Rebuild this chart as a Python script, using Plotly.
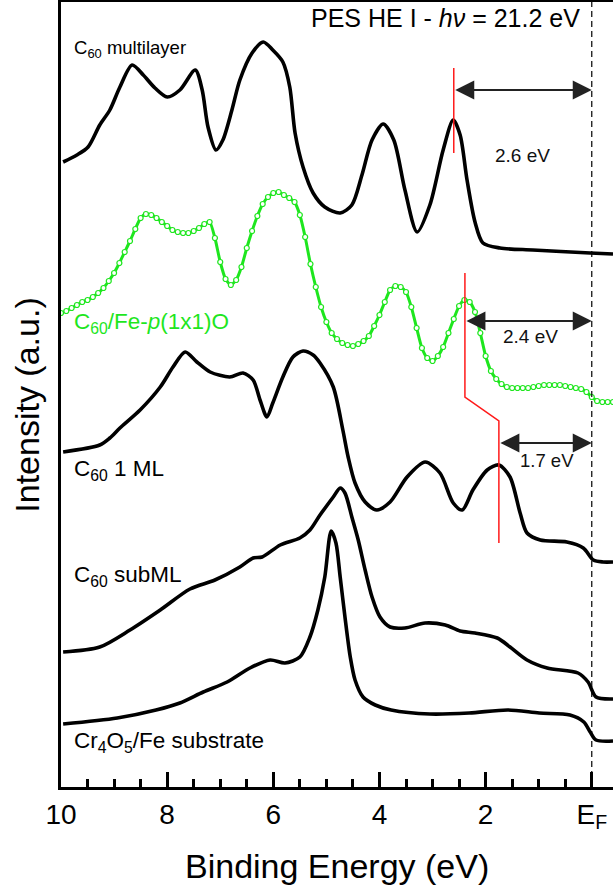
import plotly.graph_objects as go

FONT = "Liberation Sans, Arial, sans-serif"

# ---------------- data (binding energy in eV, intensity in a.u.) ----------------
ml_be = [9.96, 9.70, 9.49, 9.27, 9.08, 8.89, 8.66, 8.45, 8.23, 8.00, 7.76, 7.47, 7.34, 7.23,
         7.08, 6.95, 6.78, 6.63, 6.40, 6.19, 6.01, 5.82, 5.69, 5.59, 5.44, 5.25, 5.03, 4.74,
         4.52, 4.33, 4.14, 3.93, 3.73, 3.52, 3.29, 3.05, 2.80, 2.61, 2.48, 2.35, 2.20, 2.05,
         1.73, 1.11, 0.03, -0.40]
ml_int = [625, 632, 640, 662, 677, 700, 722, 712, 699, 690, 697, 717, 697, 660,
          637, 647, 677, 707, 734, 745, 737, 725, 700, 654, 620, 594, 580, 574,
          582, 612, 647, 663, 647, 597, 555, 582, 637, 667, 652, 607, 565, 544,
          539, 537, 534, 533]

fe_be = [10.0, 9.9, 9.8, 9.7, 9.6, 9.5, 9.4, 9.3, 9.2, 9.1, 9.0, 8.9, 8.8, 8.7, 8.6, 8.5,
         8.4, 8.3, 8.2, 8.1, 8.0, 7.9, 7.8, 7.7, 7.6, 7.5, 7.4, 7.3, 7.2, 7.1, 7.0, 6.9,
         6.8, 6.7, 6.6, 6.5, 6.4, 6.3, 6.2, 6.1, 6.0, 5.9, 5.8, 5.7, 5.6, 5.5, 5.4, 5.3,
         5.2, 5.1, 5.0, 4.9, 4.8, 4.7, 4.6, 4.5, 4.4, 4.3, 4.2, 4.1, 4.0, 3.9, 3.8, 3.7,
         3.6, 3.5, 3.4, 3.3, 3.2, 3.1, 3.0, 2.9, 2.8, 2.7, 2.6, 2.5, 2.4, 2.3, 2.2, 2.1,
         2.0, 1.9, 1.8, 1.7, 1.6, 1.5, 1.4, 1.3, 1.2, 1.1, 1.0, 0.9, 0.8, 0.7, 0.6, 0.5,
         0.4, 0.3, 0.2, 0.1, 0.0, -0.1, -0.2, -0.3, -0.4]
fe_int = [474, 476, 479, 482, 485, 487, 490, 494, 499, 506, 514, 524, 535, 546, 558, 569,
          573, 572, 569, 565, 561, 557, 555, 554, 554, 556, 559, 563, 565, 549, 525, 508,
          502, 507, 520, 539, 556, 571, 583, 590, 594, 595, 592, 589, 585, 572, 550, 523,
          500, 480, 465, 454, 448, 444, 442, 441, 443, 446, 451, 461, 472, 485, 497, 501,
          500, 495, 480, 459, 439, 429, 426, 431, 440, 454, 468, 481, 487, 485, 475, 454,
          431, 416, 408, 403, 400, 399, 399, 399, 399, 400, 401, 402, 402, 402, 402, 401,
          400, 399, 398, 395, 390, 386, 385, 385, 385]

one_be = [9.96, 9.27, 9.08, 8.89, 8.51, 8.13, 7.89, 7.66, 7.44, 7.19, 6.82, 6.57, 6.38, 6.25,
          6.12, 6.01, 5.82, 5.63, 5.44, 5.25, 5.12, 4.87, 4.69, 4.59, 4.46, 4.27, 4.05, 3.80,
          3.48, 3.14, 2.86, 2.61, 2.44, 2.24, 1.97, 1.75, 1.54, 1.35, 1.22, 0.97, 0.47, 0.16,
          -0.03, -0.21, -0.40]
one_int = [335, 342, 349, 359, 377, 400, 420, 435, 425, 415, 410, 414, 407, 387,
           370, 384, 410, 430, 436, 432, 424, 400, 357, 330, 304, 285, 277, 285,
           310, 325, 314, 284, 277, 297, 317, 322, 310, 274, 254, 247, 245, 239,
           227, 225, 225]

sub_be = [9.96, 9.27, 8.70, 8.13, 7.57, 7.10, 6.63, 6.38, 6.21, 5.87, 5.50, 5.31, 5.12, 4.87,
          4.74, 4.65, 4.52, 4.40, 4.27, 4.14, 3.99, 3.80, 3.52, 3.14, 2.76, 2.48, 2.20, 1.78,
          1.54, 1.22, 0.84, 0.26, 0.07, -0.08, -0.40]
sub_int = [135, 140, 157, 177, 198, 207, 220, 229, 230, 242, 249, 257, 272, 290,
           299, 294, 270, 247, 217, 190, 170, 160, 159, 164, 162, 156, 154, 149,
           140, 127, 119, 114, 105, 90, 88]

cr_be = [9.96, 8.94, 8.21, 7.76, 7.32, 6.87, 6.44, 6.06, 5.78, 5.50, 5.31, 5.16, 5.03, 4.91,
         4.82, 4.74, 4.65, 4.55, 4.46, 4.31, 4.08, 3.78, 3.05, 2.31, 1.58, 0.99, 0.41, 0.15,
         0.03, -0.08, -0.40]
cr_int = [63, 69, 77, 84, 95, 105, 119, 127, 124, 130, 150, 177, 210, 256,
          244, 210, 170, 130, 107, 90, 82, 77, 73, 74, 77, 74, 72, 65,
          55, 47, 46]

# onset energies (eV) and gap annotations
gap_labels = ["2.6 eV", "2.4 eV", "1.7 eV"]
gap_edges = [2.6, 2.39, 1.75]
arrow_levels = [697, 466, 344]

tick_vals = [10, 8, 6, 4, 2, 0]
tick_text = ["10", "8", "6", "4", "2", "E<sub>F</sub>"]

GREEN = "#1ee61e"
RED = "#ff1a1a"

fig = go.Figure()

for be, it in [(ml_be, ml_int), (one_be, one_int), (sub_be, sub_int), (cr_be, cr_int)]:
    fig.add_trace(go.Scatter(x=be, y=it, mode="lines",
                             line=dict(color="black", width=3.6, shape="spline", smoothing=0.8),
                             showlegend=False, hoverinfo="skip"))

fig.add_trace(go.Scatter(x=fe_be, y=fe_int, mode="lines+markers",
                         line=dict(color=GREEN, width=3, shape="spline", smoothing=0.6),
                         marker=dict(symbol="circle", size=5, color="white",
                                     line=dict(color=GREEN, width=1.2)),
                         showlegend=False, hoverinfo="skip"))

# red onset lines
fig.add_shape(type="line", xref="x", yref="y", x0=gap_edges[0], x1=gap_edges[0], y0=634, y1=719,
              line=dict(color=RED, width=1.5))
fig.add_shape(type="path", xref="x", yref="y",
              path=f"M {gap_edges[1]},514 L {gap_edges[1]},390 L {gap_edges[2]},366 L {gap_edges[2]},244",
              line=dict(color=RED, width=1.5))

# E_F dashed line
fig.add_shape(type="line", xref="x", yref="paper", x0=0, x1=0, y0=0, y1=1,
              line=dict(color="black", width=1.2, dash="6px,4px"))

# gap arrows
for edge, lev in zip(gap_edges, arrow_levels):
    fig.add_annotation(x=0, y=lev, ax=edge, ay=lev, xref="x", yref="y", axref="x", ayref="y",
                       showarrow=True, arrowhead=2, arrowside="end+start", arrowsize=1.9,
                       arrowwidth=2, arrowcolor="#222", text="")

gap_pos = [(1.31, 632, 19), (1.16, 451, 19), (0.84, 327, 18.5)]
for lbl, (gx, gy, fs) in zip(gap_labels, gap_pos):
    fig.add_annotation(x=gx, y=gy, xref="x", yref="y", text=lbl, showarrow=False,
                       font=dict(family=FONT, size=fs, color="#111"))

# curve labels
labels = [("C<sub>60</sub> multilayer", 738, "black", 18.5),
          ("C<sub>60</sub>/Fe-<i>p</i>(1x1)O", 464, GREEN, 22.5),
          ("C<sub>60</sub> 1 ML", 317, "black", 22.5),
          ("C<sub>60</sub> subML", 211, "black", 22.5),
          ("Cr<sub>4</sub>O<sub>5</sub>/Fe substrate", 45, "black", 22.5)]
for txt, yy, col, fs in labels:
    fig.add_annotation(x=9.79, y=yy, xref="x", yref="y", text=txt, showarrow=False,
                       xanchor="left", yanchor="middle",
                       font=dict(family=FONT, size=fs, color=col))

fig.add_annotation(x=0.18, y=769, xref="x", yref="y", text="PES HE I - <i>h\u03bd</i> = 21.2 eV",
                   showarrow=False, xanchor="right", yanchor="middle",
                   font=dict(family=FONT, size=25, color="black"))

# axis titles
fig.add_annotation(x=0.5, y=-0.1, xref="paper", yref="paper", text="Binding Energy (eV)",
                   showarrow=False, xanchor="center", yanchor="middle",
                   font=dict(family=FONT, size=34, color="black"))
fig.add_annotation(x=-0.0616, y=0.487, xref="paper", yref="paper", text="Intensity (a.u.)",
                   showarrow=False, textangle=-90, xanchor="center", yanchor="middle",
                   font=dict(family=FONT, size=34, color="black"))

fig.update_layout(
    width=613, height=886,
    margin=dict(l=61, r=0, t=2, b=99),
    paper_bgcolor="white", plot_bgcolor="white",
    font=dict(family=FONT, color="black"),
    xaxis=dict(range=[10, -0.40], tickvals=tick_vals, ticktext=tick_text,
               ticks="inside", ticklen=15, tickwidth=2.5, tickcolor="black",
               showline=True, linewidth=3, linecolor="black", mirror=True,
               showgrid=False, zeroline=False, tickfont=dict(family=FONT, size=28),
               minor=dict(dtick=0.5, ticks="inside", ticklen=8, tickwidth=2.5,
                          tickcolor="black", showgrid=False)),
    yaxis=dict(range=[0, 785], showline=True, linewidth=3, linecolor="black", mirror=False,
               showticklabels=False, ticks="", showgrid=False, zeroline=False),
)

fig.write_html("out.html", config={"displayModeBar": False},
               post_script="document.body.style.margin='0px';")
